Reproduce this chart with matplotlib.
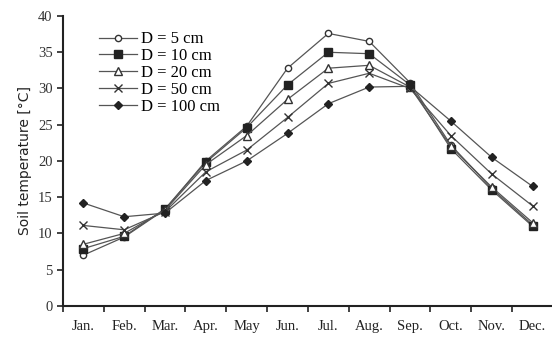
import matplotlib
matplotlib.use("Agg")
import matplotlib.pyplot as plt

months = ["Jan.", "Feb.", "Mar.", "Apr.", "May", "Jun.", "Jul.", "Aug.", "Sep.", "Oct.", "Nov.", "Dec."]
d5 = [7.0, 9.5, 13.3, 20.0, 24.8, 32.8, 37.6, 36.5, 30.8, 22.2, 16.2, 11.2]
d10 = [7.9, 9.6, 13.4, 19.8, 24.6, 30.5, 35.0, 34.8, 30.5, 21.7, 16.0, 11.0]
d20 = [8.5, 10.0, 13.2, 19.5, 23.5, 28.5, 32.8, 33.2, 30.2, 22.0, 16.4, 11.5]
d50 = [11.1, 10.5, 13.0, 18.5, 21.5, 26.0, 30.7, 32.1, 30.0, 23.5, 18.2, 13.8]
d100 = [14.2, 12.3, 12.8, 17.3, 20.0, 23.8, 27.9, 30.2, 30.3, 25.5, 20.5, 16.5]
labels = ["D = 5 cm", "D = 10 cm", "D = 20 cm", "D = 50 cm", "D = 100 cm"]
yticks = [0, 5, 10, 15, 20, 25, 30, 35, 40]

fig = plt.figure(figsize=(5.52, 3.41), dpi=100)
ax = fig.add_axes([0.114, 0.103, 0.884, 0.85])

x = list(range(len(months)))
col = "#333333"
styles = [
    dict(marker="o", mfc="white", mec=col, ms=4.5),
    dict(marker="s", mfc="#222222", mec="#222222", ms=5.5),
    dict(marker="^", mfc="white", mec=col, ms=5.5),
    dict(marker="x", mfc="none", mec=col, ms=6),
    dict(marker="D", mfc="#222222", mec="#222222", ms=4.5),
]
for ys, lab, st in zip([d5, d10, d20, d50, d100], labels, styles):
    ax.plot(x, ys, color="#555555", lw=0.9, label=lab, **st)

ax.set_xlim(-0.5, 11.45)
ax.set_ylim(0, 40)
ax.set_yticks(yticks)
ax.set_xticks([i - 0.5 for i in range(12)])
ax.set_xticklabels([])
ax.set_xticks(x, minor=True)
ax.set_xticklabels(months, minor=True, fontfamily="Liberation Serif", fontsize=10.5, color="#222222")
ax.tick_params(axis="x", which="minor", length=0, pad=10)
ax.tick_params(axis="x", which="major", length=4, width=1.2, color="#222222")
ax.tick_params(axis="y", length=4, width=1.2, color="#222222", labelsize=10.5, labelcolor="#333333")
for t in ax.get_yticklabels():
    t.set_fontfamily("Liberation Serif")
for s in ["top", "right"]:
    ax.spines[s].set_visible(False)
for s in ["left", "bottom"]:
    ax.spines[s].set_linewidth(1.5)
    ax.spines[s].set_color("#222222")

ax.set_ylabel("Soil temperature [°C]", fontsize=10, fontfamily="DejaVu Sans", color="#222222", labelpad=4)

leg = ax.legend(loc="upper left", bbox_to_anchor=(0.06, 0.97), frameon=False,
                prop={"family": "Liberation Serif", "size": 12},
                handlelength=2.3, labelspacing=0.05, handletextpad=0.2, borderaxespad=0)

fig.savefig("out.png", dpi=100)
